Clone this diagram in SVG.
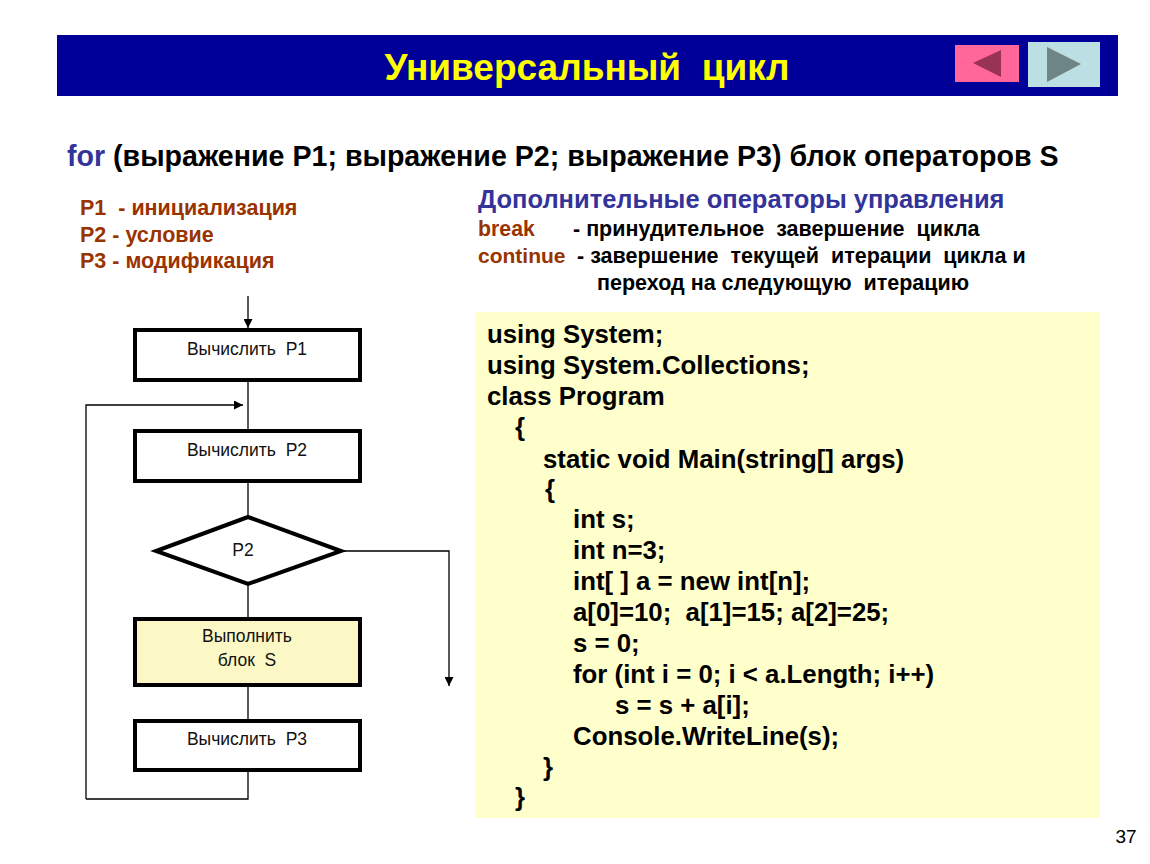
<svg xmlns="http://www.w3.org/2000/svg" width="1150" height="864" viewBox="0 0 1150 864">
<style>
text{white-space:pre}
.t{font-family:"Liberation Sans",Arial,sans-serif}
.b{font-weight:bold}
.box{fill:#fff;stroke:#000;stroke-width:4}
.ln{fill:none;stroke:#000;stroke-width:1.3}
.lbl{font-family:"Liberation Sans",Arial,sans-serif;font-size:17.5px;text-anchor:middle;fill:#111}
.code{font-family:"Liberation Sans",Arial,sans-serif;font-weight:bold;font-size:25.8px;fill:#000}
.br{fill:#993300}
</style>
<defs>
<marker id="ah" viewBox="0 0 10 10" refX="10" refY="5" markerWidth="9" markerHeight="9" markerUnits="userSpaceOnUse" orient="auto">
<path d="M0,0 L10,5 L0,10 Z" fill="#000"/>
</marker>
</defs>
<rect width="1150" height="864" fill="#fff"/>
<g id="header">
<rect x="57" y="35" width="1061" height="61" fill="#000099"/>
<text x="587" y="80" class="t b" font-size="37" fill="#ffff00" text-anchor="middle">Универсальный  цикл</text>
<rect x="955" y="45" width="64" height="37" fill="#ff6699"/>
<polygon points="973,63 1001,50 1001,77" fill="#993355"/>
<rect x="1028" y="42" width="72" height="45" fill="#bbdfe2"/>
<polygon points="1047,47 1081,64 1047,82" fill="#6f8585"/>
</g>
<g id="syntax">
<text x="67" y="166" class="t b" font-size="28.6"><tspan fill="#333399">for</tspan> (выражение P1; выражение P2; выражение P3) блок операторов S</text>
</g>
<g id="params" class="t b" font-size="21.5">
<text x="80" y="215" class="br">P1  - инициализация</text>
<text x="80" y="242" class="br">P2 - условие</text>
<text x="80" y="268" class="br">P3 - модификация</text>
</g>
<g id="extra" class="t b">
<text x="478" y="208" font-size="25.5" fill="#333399">Дополнительные операторы управления</text>
<text x="478" y="236" font-size="21.3" class="br">break</text>
<text x="573" y="236" font-size="21.5">- принудительное  завершение  цикла</text>
<text x="478" y="263" font-size="21" class="br">continue</text>
<text x="577" y="263" font-size="21.5">- завершение  текущей  итерации  цикла и</text>
<text x="597" y="290" font-size="21.5">переход на следующую  итерацию</text>
</g>
<g id="connectors">
<line x1="248" y1="296" x2="248" y2="328" class="ln" marker-end="url(#ah)"/>
<line x1="248" y1="382" x2="248" y2="429" class="ln"/>
<polyline points="86,799 86,405 243,405" class="ln" marker-end="url(#ah)"/>
<line x1="248" y1="483" x2="248" y2="516" class="ln"/>
<polyline points="341,551 449,551 449,686" class="ln" marker-end="url(#ah)"/>
<line x1="248" y1="585" x2="248" y2="617" class="ln"/>
<line x1="248" y1="687" x2="248" y2="719" class="ln"/>
<polyline points="248,772 248,799 86,799" class="ln"/>
</g>
<g id="n-p1">
<rect x="135" y="330" width="225" height="50" class="box"/>
<text x="247" y="355" class="lbl">Вычислить  P1</text>
</g>
<g id="n-p2">
<rect x="135" y="431" width="225" height="50" class="box"/>
<text x="247" y="456" class="lbl">Вычислить  P2</text>
</g>
<g id="n-cond">
<polygon points="248,517 341,551 248,584 156,551" class="box"/>
<text x="243" y="556" class="lbl">P2</text>
</g>
<g id="n-body">
<rect x="135" y="619" width="225" height="66" class="box" style="fill:#fbf8c6"/>
<text x="247" y="642" class="lbl">Выполнить</text>
<text x="247" y="666" class="lbl">блок  S</text>
</g>
<g id="n-p3">
<rect x="135" y="721" width="225" height="49" class="box"/>
<text x="247" y="745" class="lbl">Вычислить  P3</text>
</g>
<g id="code">
<rect x="475" y="312" width="625" height="506" fill="#ffffcc"/>
<text class="code" x="487" y="343">using System;</text>
<text class="code" x="487" y="374">using System.Collections;</text>
<text class="code" x="487" y="405">class Program</text>
<text class="code" x="515" y="436">{</text>
<text class="code" x="543" y="468">static void Main(string[] args)</text>
<text class="code" x="545" y="498">{</text>
<text class="code" x="573" y="528">int s;</text>
<text class="code" x="573" y="559">int n=3;</text>
<text class="code" x="573" y="590">int[ ] a = new int[n];</text>
<text class="code" x="573" y="621">a[0]=10;  a[1]=15; a[2]=25;</text>
<text class="code" x="573" y="652">s = 0;</text>
<text class="code" x="573" y="683">for (int i = 0; i &lt; a.Length; i++)</text>
<text class="code" x="615" y="714">s = s + a[i];</text>
<text class="code" x="573" y="745">Console.WriteLine(s);</text>
<text class="code" x="543" y="776">}</text>
<text class="code" x="515" y="806">}</text>
</g>
<text x="1126" y="843" class="t" font-size="19" text-anchor="middle">37</text>
</svg>
